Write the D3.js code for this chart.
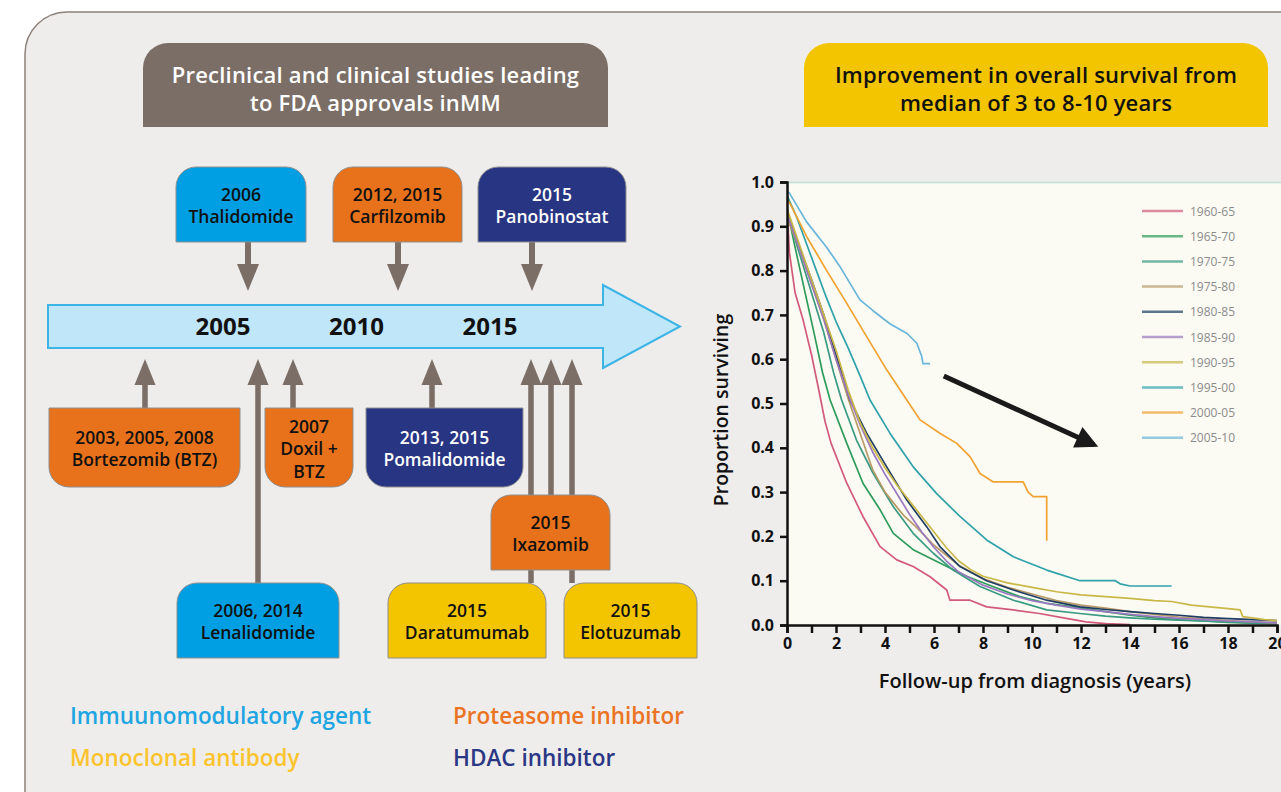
<!DOCTYPE html>
<html>
<head>
<meta charset="utf-8">
<script src="https://cdn.jsdelivr.net/npm/d3@7"></script>
<style>
  html, body { margin: 0; padding: 0; background: #ffffff; }
  svg { display: block; }
  text { font-family: "Open Sans", "Lato", sans-serif; }
</style>
</head>
<body>
<svg id="chart" width="1281" height="792"></svg>
<script>
// ---------------- DATA ----------------
const leftTitle = ["Preclinical and clinical studies leading", "to FDA approvals inMM"];
const rightTitle = ["Improvement in overall survival from", "median of 3 to 8-10 years"];

const timelineYears = [2005, 2010, 2015];

const drugNames = ["Thalidomide", "Carfilzomib", "Panobinostat", "Bortezomib (BTZ)", "Doxil + BTZ",
                   "Pomalidomide", "Lenalidomide", "Ixazomib", "Daratumumab", "Elotuzumab"];
const approvalYears = ["2006", "2012, 2015", "2015", "2003, 2005, 2008", "2007",
                       "2013, 2015", "2006, 2014", "2015", "2015", "2015"];
const drugClass = ["imid", "pi", "hdac", "pi", "pi", "hdac", "imid", "pi", "mab", "mab"];
const boxLabels = [
  ["2006", "Thalidomide"], ["2012, 2015", "Carfilzomib"], ["2015", "Panobinostat"],
  ["2003, 2005, 2008", "Bortezomib (BTZ)"], ["2007", "Doxil +", "BTZ"], ["2013, 2015", "Pomalidomide"],
  ["2006, 2014", "Lenalidomide"], ["2015", "Ixazomib"], ["2015", "Daratumumab"], ["2015", "Elotuzumab"]
];

const classKeys = ["imid", "mab", "pi", "hdac"];
const classNames = ["Immuunomodulatory agent", "Monoclonal antibody", "Proteasome inhibitor", "HDAC inhibitor"];

// survival chart
const cohorts = ["1960-65", "1965-70", "1970-75", "1975-80", "1980-85", "1985-90", "1990-95", "1995-00", "2000-05", "2005-10"];
const yTicks = [0, 0.1, 0.2, 0.3, 0.4, 0.5, 0.6, 0.7, 0.8, 0.9, 1.0];
const xTicks = d3.range(0, 21, 1);

const s1960 = [[0,0.95],[0.1,0.84],[0.33,0.75],[0.65,0.69],[1.0,0.61],[1.3,0.53],[1.55,0.46],[1.8,0.41],[2.44,0.32],[3.1,0.245],[3.8,0.177],[4.48,0.147],[5.15,0.132],[5.84,0.109],[6.52,0.079],[6.65,0.056],[7.47,0.056],[8.15,0.041],[9.24,0.034],[10.3,0.026],[11.4,0.015],[12.2,0.007],[13,0.003],[14,0.001]];
const s1965 = [[0,0.94],[0.3,0.86],[0.7,0.76],[1.1,0.66],[1.45,0.57],[1.76,0.508],[2.44,0.41],[3.1,0.32],[3.8,0.26],[4.34,0.207],[5.15,0.17],[6.24,0.14],[7.33,0.11],[8.4,0.087],[9.5,0.064],[10.6,0.049],[11.7,0.041],[13,0.03],[14,0.022],[15,0.016],[16,0.012],[17,0.009],[18,0.006],[19,0.004],[20,0.003]];
const s1970 = [[0,0.93],[0.5,0.84],[1,0.75],[1.5,0.66],[1.9,0.57],[2.23,0.508],[2.84,0.417],[3.52,0.342],[4.34,0.267],[5.15,0.207],[5.97,0.162],[6.78,0.124],[7.88,0.087],[9.24,0.056],[10.6,0.034],[11.96,0.026],[13,0.02],[14,0.016],[15,0.013],[16,0.011],[17,0.009],[18,0.007],[19,0.005],[20,0.004]];
const s1975 = [[0,0.92],[0.5,0.85],[1,0.77],[1.5,0.69],[2,0.60],[2.5,0.51],[3,0.43],[3.5,0.35],[4,0.30],[4.5,0.265],[4.8,0.245],[5.3,0.22],[6,0.18],[7,0.135],[8,0.105],[9,0.085],[10,0.07],[11,0.055],[12,0.045],[13,0.038],[14,0.03],[15,0.024],[16,0.018],[17,0.014],[18,0.01],[19,0.007],[20,0.005]];
const s1980 = [[0,0.93],[0.5,0.855],[1,0.78],[1.5,0.70],[2,0.61],[2.57,0.508],[3.25,0.433],[4.07,0.357],[4.89,0.282],[5.7,0.222],[6.24,0.177],[7.06,0.132],[8.15,0.10],[9.24,0.079],[10.6,0.056],[11.96,0.041],[13,0.035],[14,0.03],[15,0.026],[16,0.022],[17,0.017],[17.8,0.015],[19,0.012],[20,0.01]];
const s1985 = [[0,0.93],[0.5,0.85],[1,0.77],[1.5,0.69],[2,0.60],[2.5,0.52],[3,0.45],[3.5,0.39],[4,0.34],[4.5,0.295],[5,0.25],[5.5,0.21],[6,0.175],[6.5,0.145],[7,0.12],[8,0.09],[9,0.07],[10,0.055],[11,0.045],[12,0.036],[13,0.03],[14,0.024],[15,0.019],[16,0.015],[17,0.012],[18,0.009],[19,0.007],[20,0.005]];
const s1990 = [[0,0.94],[0.5,0.86],[1,0.78],[1.5,0.70],[2,0.62],[2.5,0.53],[3,0.455],[3.5,0.40],[4,0.355],[4.5,0.315],[5,0.28],[5.5,0.245],[6,0.21],[6.5,0.175],[7,0.145],[7.5,0.125],[8,0.11],[9,0.095],[10,0.085],[11,0.075],[12,0.068],[13,0.064],[14,0.06],[15,0.055],[15.7,0.053],[16.5,0.045],[17.8,0.038],[18.5,0.034],[18.6,0.019],[19.5,0.012],[20,0.01]];
const s1995 = [[0,0.97],[0.4,0.92],[0.8,0.86],[1.2,0.80],[1.6,0.74],[2,0.685],[2.5,0.625],[3,0.56],[3.39,0.508],[4.2,0.433],[5.15,0.357],[6.1,0.297],[7.06,0.245],[8.15,0.192],[9.24,0.154],[10.6,0.124],[11.96,0.10],[13.4,0.10],[13.6,0.093],[14,0.088],[15.7,0.088]];
const s2000 = [[0,0.96],[0.12,0.952],[0.8,0.877],[1.62,0.80],[2.44,0.726],[3.25,0.651],[4.07,0.576],[4.89,0.508],[5.43,0.463],[6.24,0.433],[6.93,0.41],[7.47,0.38],[7.88,0.342],[8.42,0.323],[9.64,0.323],[9.84,0.30],[10.05,0.29],[10.6,0.29],[10.6,0.19]];
const s2005 = [[0,0.98],[0.1,0.975],[0.8,0.91],[1.6,0.854],[2.15,0.81],[2.98,0.734],[3.5,0.71],[4.2,0.68],[4.9,0.658],[5.3,0.636],[5.5,0.606],[5.55,0.59],[5.84,0.59]];
const survival = [s1960, s1965, s1970, s1975, s1980, s1985, s1990, s1995, s2000, s2005];
// trend arrow (years, proportion)
const trendArrow = [[6.4, 0.562], [12.78, 0.40]];

// ---------------- STYLE / LAYOUT ----------------
const classFill = { imid: "#009fe3", pi: "#e8711b", hdac: "#283583", mab: "#f3c400" };
const classText = { imid: "#1ea5e2", pi: "#ea7424", hdac: "#2b3784", mab: "#fbc42f" };
const cohortColors = ["#d25b7a", "#2e9c5c", "#3a9a82", "#b89a68", "#1f3d62", "#9a78c0", "#c9b848", "#2fa2aa", "#f0a331", "#6ab6da"];
const arrowGray = "#7b6e66";

// box geometry per drug: x, y, w, h, rounded side, arrow x, arrow direction
const boxLayout = [
  { x: 176, y: 167, w: 130, h: 75, r: "top", ax: 248, dir: "down" },
  { x: 333, y: 167, w: 129, h: 75, r: "top", ax: 398, dir: "down" },
  { x: 478, y: 167, w: 148, h: 75, r: "top", ax: 532, dir: "down" },
  { x: 49, y: 408, w: 191, h: 79, r: "bottom", ax: 145, dir: "up" },
  { x: 265, y: 408, w: 88, h: 79, r: "bottom", ax: 293, dir: "up" },
  { x: 366, y: 408, w: 157, h: 79, r: "bottom", ax: 432, dir: "up" },
  { x: 177, y: 583, w: 162, h: 75, r: "top", ax: 258, dir: "up" },
  { x: 491, y: 495, w: 119, h: 75, r: "top", ax: 551, dir: "up" },
  { x: 388, y: 583, w: 158, h: 75, r: "top", ax: 531, dir: "up" },
  { x: 564, y: 583, w: 133, h: 75, r: "top", ax: 572, dir: "up" }
];

const svg = d3.select("#chart");

function roundedPath(x, y, w, h, r, side) {
  const p = d3.path();
  if (side === "top") {
    p.moveTo(x, y + h);
    p.lineTo(x, y + r);
    p.arcTo(x, y, x + r, y, r);
    p.lineTo(x + w - r, y);
    p.arcTo(x + w, y, x + w, y + r, r);
    p.lineTo(x + w, y + h);
    p.closePath();
  } else {
    p.moveTo(x, y);
    p.lineTo(x + w, y);
    p.lineTo(x + w, y + h - r);
    p.arcTo(x + w, y + h, x + w - r, y + h, r);
    p.lineTo(x + r, y + h);
    p.arcTo(x, y + h, x, y + h - r, r);
    p.closePath();
  }
  return p.toString();
}

// outer panel
svg.append("rect").attr("x", 25).attr("y", 12).attr("width", 1320).attr("height", 850).attr("rx", 42)
  .attr("fill", "#efedeb").attr("stroke", "#8d817a").attr("stroke-width", 1.5);

// header boxes
function header(x, w, fill, color, lines) {
  svg.append("path").attr("d", roundedPath(x, 43, w, 84, 25, "top")).attr("fill", fill);
  lines.forEach((t, i) => {
    svg.append("text").attr("x", x + w / 2).attr("y", 83 + i * 28)
      .attr("text-anchor", "middle").attr("font-size", 22).attr("font-weight", 600)
      .attr("letter-spacing", 0.2).attr("fill", color).text(t);
  });
}
header(143, 465, "#7b6e66", "#ffffff", leftTitle);
header(804, 464, "#f2c500", "#111111", rightTitle);

// timeline arrow
const yearX = d3.scaleLinear().domain([2005, 2015]).range([223, 490]);
svg.append("path")
  .attr("d", "M48,305 L603,305 L603,285 L680,326.5 L603,368 L603,348 L48,348 Z")
  .attr("fill", "#bfe6f9").attr("stroke", "#3cb4e6").attr("stroke-width", 2);
svg.selectAll(".tlyear").data(timelineYears).join("text")
  .attr("x", d => yearX(d)).attr("y", 335).attr("text-anchor", "middle")
  .attr("font-size", 24).attr("font-weight", 700).attr("fill", "#111").text(d => d);

// connector arrows (drawn before boxes)
const arrowG = svg.append("g").attr("fill", arrowGray);
boxLayout.forEach(b => {
  if (b.dir === "down") {
    const y0 = b.y + b.h;
    arrowG.append("rect").attr("x", b.ax - 3).attr("y", y0).attr("width", 6).attr("height", 24);
    arrowG.append("path").attr("d", `M${b.ax - 11},${y0 + 22} L${b.ax + 11},${y0 + 22} L${b.ax},${y0 + 49} Z`);
  } else {
    arrowG.append("rect").attr("x", b.ax - 2.75).attr("y", 383).attr("width", 5.5).attr("height", b.y - 383);
    arrowG.append("path").attr("d", `M${b.ax - 10.5},385 L${b.ax + 10.5},385 L${b.ax},359 Z`);
  }
});

// drug boxes
boxLayout.forEach((b, i) => {
  const cls = drugClass[i];
  svg.append("path").attr("d", roundedPath(b.x, b.y, b.w, b.h, 20, b.r))
    .attr("fill", classFill[cls]).attr("stroke", "#8f8f8f").attr("stroke-width", 1);
  const lines = boxLabels[i];
  const lh = 22.5;
  const cy = b.y + b.h / 2 + 1.5;
  const first = cy - (lines.length - 1) * lh / 2;
  lines.forEach((t, k) => {
    svg.append("text").attr("x", b.x + b.w / 2).attr("y", first + k * lh + 6)
      .attr("text-anchor", "middle").attr("font-size", 17.5).attr("font-weight", 600)
      .attr("fill", cls === "hdac" ? "#ffffff" : "#111111").text(t);
  });
});

// class legend
const legPos = [[70, 724], [70, 766], [453, 724], [453, 766]];
classKeys.forEach((k, i) => {
  svg.append("text").attr("x", legPos[i][0]).attr("y", legPos[i][1])
    .attr("font-size", 22.5).attr("font-weight", 600).attr("fill", classText[k]).text(classNames[i]);
});

// ---------------- SURVIVAL CHART ----------------
const x = d3.scaleLinear().domain([0, 20]).range([787, 1277]);
const y = d3.scaleLinear().domain([0, 1]).range([625, 182]);

svg.append("rect").attr("x", 787).attr("y", 182).attr("width", 500).attr("height", 443).attr("fill", "#fbfaf3");
svg.append("line").attr("x1", 787).attr("x2", 1290).attr("y1", 182.5).attr("y2", 182.5)
  .attr("stroke", "#bfe0d2").attr("stroke-width", 1.5);

const clip = svg.append("clipPath").attr("id", "plotclip");
clip.append("rect").attr("x", 787).attr("y", 170).attr("width", 520).attr("height", 456);

const line = d3.line().x(d => x(d[0])).y(d => y(d[1])).curve(d3.curveLinear);
const curves = svg.append("g").attr("clip-path", "url(#plotclip)");
survival.forEach((s, i) => {
  curves.append("path").attr("d", line(s)).attr("fill", "none")
    .attr("stroke", cohortColors[i]).attr("stroke-width", 1.7).attr("stroke-linejoin", "round");
});

// legend inside plot
cohorts.forEach((c, i) => {
  const yy = 211 + i * 25.2;
  svg.append("line").attr("x1", 1142).attr("x2", 1183).attr("y1", yy).attr("y2", yy)
    .attr("stroke", cohortColors[i]).attr("stroke-width", 2.5).attr("opacity", 0.7);
  svg.append("text").attr("x", 1190).attr("y", yy + 4.5).attr("font-size", 12)
    .attr("fill", "#8c8c8c").text(c);
});

// trend arrow
svg.append("defs").append("marker").attr("id", "ah").attr("viewBox", "0 0 10 10")
  .attr("refX", 8).attr("refY", 5).attr("markerWidth", 5).attr("markerHeight", 4.5)
  .attr("orient", "auto").attr("markerUnits", "strokeWidth")
  .append("path").attr("d", "M0,0 L10,5 L0,10 Z").attr("fill", "#1a1a1a");
svg.append("line")
  .attr("x1", x(trendArrow[0][0])).attr("y1", y(trendArrow[0][1]))
  .attr("x2", x(trendArrow[1][0]) - 6).attr("y2", y(trendArrow[1][1]) - 3)
  .attr("stroke", "#1a1a1a").attr("stroke-width", 5).attr("marker-end", "url(#ah)");

// axes
const yAxis = d3.axisLeft(y).tickValues(yTicks).tickFormat(d3.format(".1f")).tickSize(7).tickPadding(6);
const gy = svg.append("g").attr("transform", "translate(787,0)").call(yAxis);
const xAxis = d3.axisBottom(x).tickValues(xTicks).tickFormat(d => d % 2 === 0 ? d : "").tickSize(8).tickPadding(5);
const gx = svg.append("g").attr("transform", "translate(0,625)").call(xAxis);
[gx, gy].forEach(g => {
  g.select(".domain").attr("stroke", "#111").attr("stroke-width", 2.5);
  g.selectAll(".tick line").attr("stroke", "#111").attr("stroke-width", 2.5);
  g.selectAll(".tick text").attr("font-size", 16).attr("font-weight", 700).attr("fill", "#111")
    .attr("font-family", "'Open Sans', sans-serif");
});

svg.append("text").attr("transform", "translate(728,410) rotate(-90)").attr("text-anchor", "middle")
  .attr("font-size", 19.5).attr("font-weight", 600).attr("fill", "#111").text("Proportion surviving");
svg.append("text").attr("x", 1035).attr("y", 688).attr("text-anchor", "middle")
  .attr("font-size", 20).attr("font-weight", 600).attr("fill", "#111").text("Follow-up from diagnosis (years)");
</script>
</body>
</html>
